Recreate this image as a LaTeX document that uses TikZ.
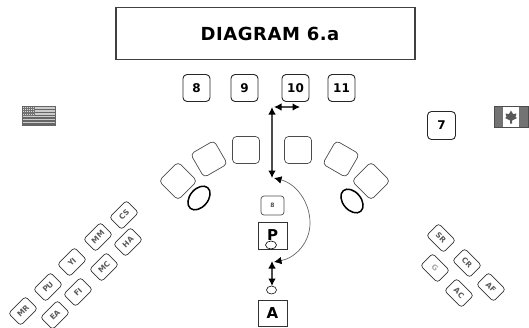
\documentclass[tikz,border=0pt]{standalone}
\usepackage{fontspec}
\setmainfont{DejaVu Sans}
\newfontfamily\titlefont[LetterSpace=3,Scale=1]{DejaVu Sans}
\usetikzlibrary{arrows.meta,shapes.geometric}
\tikzset{
  x=1pt,y=-1pt,
  titlebox/.style={draw=black!75,line width=1.1pt,minimum width=299pt,minimum height=52pt,inner sep=0pt,font=\fontsize{18}{21}\titlefont\bfseries},
  numbox/.style={draw=black!85,line width=0.9pt,rounded corners=4pt,minimum size=27pt,inner sep=0pt,font=\fontsize{12}{13}\bfseries},
  seat/.style={draw=black!70,line width=0.7pt,rounded corners=4pt,minimum size=27pt,inner sep=0pt},
  oval/.style={draw=black,line width=1.5pt,ellipse,minimum width=27pt,minimum height=18pt,inner sep=0pt},
  tag/.style={draw=black!80,line width=0.7pt,rounded corners=3pt,minimum width=24pt,minimum height=17pt,inner sep=0pt,text=black!65,font=\fontsize{7.5}{8}\bfseries},
  lettbox/.style={draw=black!80,line width=0.8pt,minimum width=29pt,inner sep=0pt,font=\fontsize{15}{16}\bfseries},
  dot/.style={draw=black,line width=0.6pt,ellipse,minimum width=10pt,minimum height=8pt,inner sep=0pt,fill=white},
  conn/.style={draw=black!70,line width=1.1pt,{Latex[length=7.5pt,width=7.5pt,black]}-{Latex[length=7.5pt,width=7.5pt,black]}},
  thin conn/.style={draw=black!60,line width=0.7pt,{Latex[length=7.5pt,width=7.5pt,black]}-{Latex[length=7.5pt,width=7.5pt,black]}}
}
\begin{document}
\begin{tikzpicture}
\useasboundingbox (0,0) rectangle (529,327);
\node[titlebox] (title) at (265.5,33.5) {\hspace*{9pt}\raisebox{-1.5pt}{DIAGRAM 6.a}};
\node[numbox] (n8) at (196.5,88) {8};
\node[numbox] (n9) at (244.5,88) {9};
\node[numbox] (n10) at (295.5,88) {10};
\node[numbox] (n11) at (341.5,88) {11};
\node[numbox,minimum size=28pt] (n7) at (441.5,125.5) {7};
% seats
\node[seat] (s1) at (178,181) [rotate=45] {};
\node[seat] (s2) at (209,159) [rotate=30] {};
\node[seat] (s3) at (246,150) {};
\node[seat] (s4) at (298,150) {};
\node[seat] (s5) at (341,159) [rotate=-30] {};
\node[seat] (s6) at (371,181) [rotate=-45] {};
\node[oval,rotate=50] (o1) at (199,198) {};
\node[oval,rotate=-50] (o2) at (352,201) {};
% centre
\node[draw=black!70,line width=0.7pt,rounded corners=3pt,minimum width=23pt,minimum height=19pt,inner sep=0pt,font=\fontsize{6}{7}\bfseries,text=black!70] (s8) at (272.5,205.5) {8};
\node[lettbox,minimum height=27pt] (p) at (272.5,235.5) {P};
\node[dot,minimum width=11pt,minimum height=8pt,fill=none] (d1) at (271,245) {};
\node[dot] (d2) at (271.5,290) {};
\node[lettbox,minimum height=26pt] (a) at (272.5,313) {A};
% connectors
\coordinate (t) at (272,107);
\coordinate (th) at (274,107);
\coordinate (h) at (300,107);
\coordinate (m) at (272,178);
\coordinate (c) at (274,178);
\coordinate (b) at (272,261);
\coordinate (b2) at (272,286);
\coordinate (c2) at (274,262);
\draw[conn] (t) -- (m);
\draw[conn] (th) -- (h);
\draw[thin conn] (c) .. controls (297,184) and (310,203) .. (310,223) .. controls (310,243) and (295,258) .. (c2);
\draw[conn] (b) -- (b2);
% tags
\foreach \n/\x/\y in {CS/124/215,MM/98/237,HA/128/242,YI/72/262,MC/104/267,PU/48/287,FI/78/292,MR/23/311,EA/55/315}
  \node[tag,rotate=45] (tag\n) at (\x,\y) {\n};
\foreach \n/\x/\y/\c in {SR/441/238/65,G/435/268/35,CR/467/263/65,AC/459/293/65,AF/491/287/65}
  \node[tag,rotate=-45,text=black!\c] (tag\n) at (\x,\y) {\n};
% US flag
\fill[black!20] (22,106) rectangle (55,125);
\foreach \i in {0,1,...,6}
  \fill[black!60] (22,{106+\i*2.85}) rectangle (55,{106+\i*2.85+1.45});
\fill[black!55] (22,106) rectangle (35,116);
\foreach \i in {0,1,2,3,4,5}
  \foreach \j in {0,1,2,3}
    \fill[black!15] ({23+\i*2},{107+\j*2.2}) rectangle ({24+\i*2},{108+\j*2.2});
\draw[black!60,line width=0.4pt] (22,106) rectangle (55,125);
% Canada flag
\fill[white] (494,106) rectangle (528,127);
\fill[black!55] (494,106) rectangle (503,127);
\fill[black!55] (519,106) rectangle (528,127);
\draw[black!70,line width=0.4pt] (494,106) rectangle (528,127);
\fill[black!65] (511,110.5) -- (513,114) -- (516.5,113.5) -- (515.5,117) -- (517,118) -- (512,120.5) -- (512,123.5) -- (510,123.5) -- (510,120.5) -- (505,118) -- (506.5,117) -- (505.5,113.5) -- (509,114) -- cycle;
\end{tikzpicture}
\end{document}
